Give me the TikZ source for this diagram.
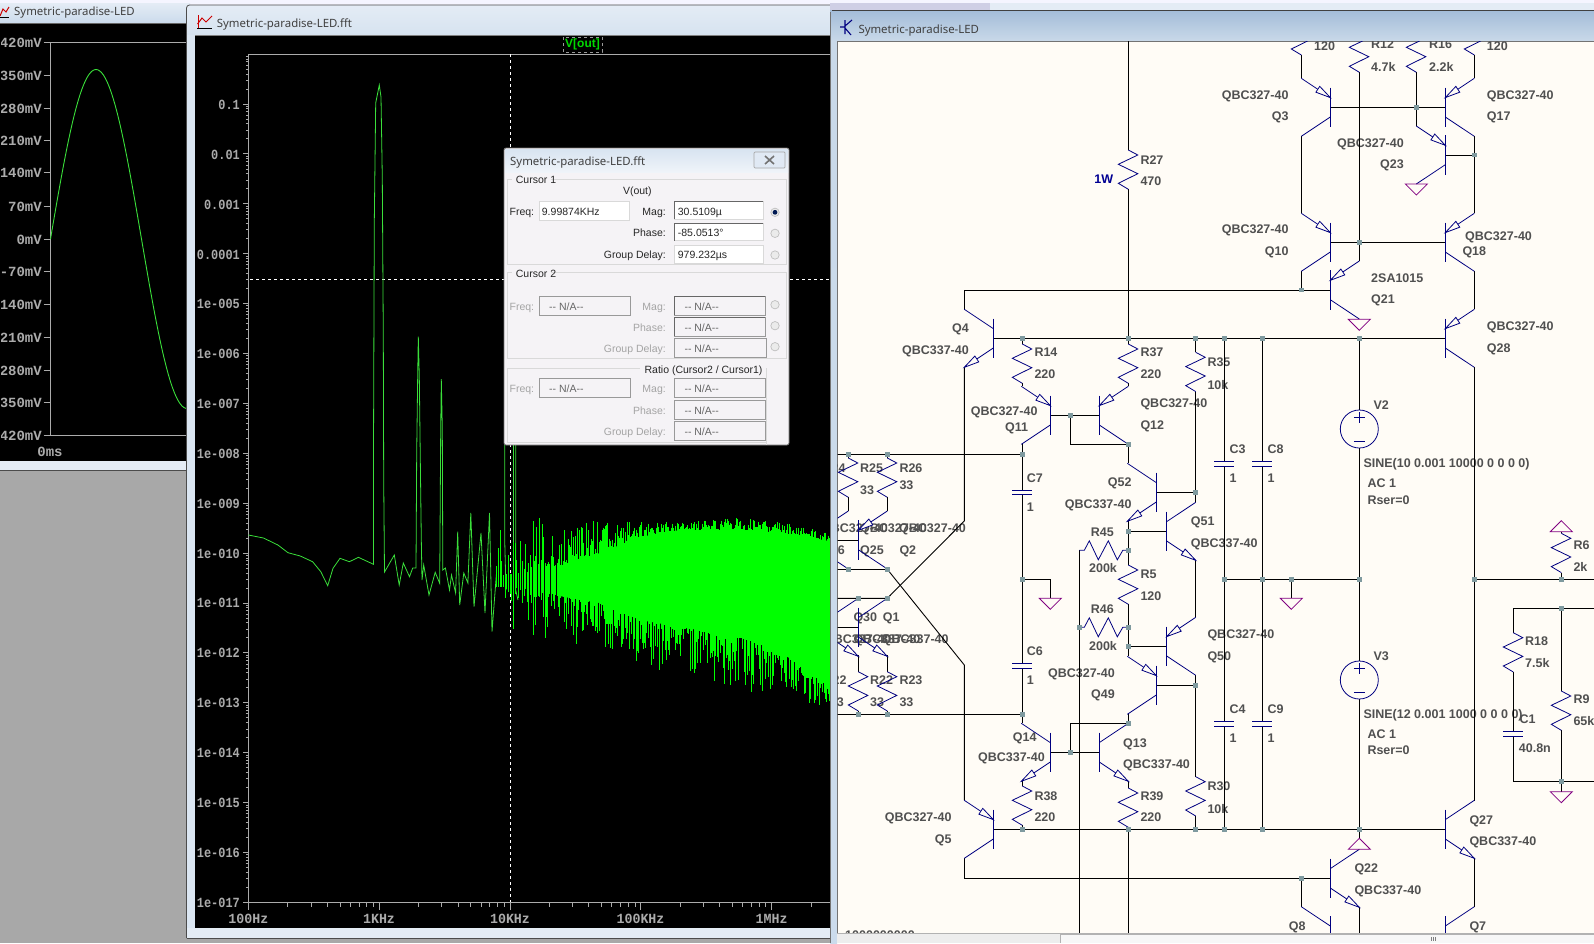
\documentclass[tikz,border=0pt]{standalone}
\usepackage{fontspec}
\setmainfont{Liberation Sans}
\newfontfamily\monof{Liberation Mono}
\newfontfamily\titlef{Noto Sans}
\definecolor{bgsch}{HTML}{FFFCF6}
\definecolor{symc}{HTML}{000080}
\definecolor{gndc}{HTML}{800080}
\definecolor{jnc}{HTML}{7F9A9F}
\definecolor{labc}{HTML}{505050}
\definecolor{axc}{HTML}{ABABAB}
\definecolor{grn}{HTML}{00FF00}
\definecolor{grt}{HTML}{3ADF3A}
\definecolor{tbA}{HTML}{E4ECF5}
\definecolor{tbB}{HTML}{CBDBEC}
\definecolor{tcA}{HTML}{A3BCD8}
\definecolor{tcB}{HTML}{C9D9E9}
\definecolor{dlg}{HTML}{F5F3F6}
\definecolor{dgr}{HTML}{A4A4A4}
\tikzset{
 wire/.style={draw=black,line width=0.9pt},
 sym/.style={draw=symc,line width=0.8pt,line join=miter},
 gndsym/.style={draw=gndc,line width=0.8pt},
 sl/.style={inner sep=0pt,text height=9pt,text depth=0pt,text=labc,font=\fontsize{12.5}{14}\selectfont\bfseries},
 ax/.style={inner sep=0pt,text height=10pt,text depth=0pt,text=axc,font=\fontsize{14}{16}\selectfont\monof\bfseries},
 dt/.style={inner sep=0pt,text height=9pt,text depth=0pt,text=black!85,font=\fontsize{10.5}{13}\selectfont},
 dg/.style={dt,text=dgr},
 ttl/.style={inner sep=0pt,anchor=west,text height=9pt,text depth=0pt,text=black!75,font=\fontsize{11.4}{13}\selectfont\titlef},
 fld/.style={fill=white,draw=black!15,line width=0.6pt},
 gfld/.style={fill=dlg,draw=black!40,line width=0.7pt},
 frm/.style={draw=white!85!black,line width=0.7pt},
}
\newcommand{\lL}[3]{\node[sl,anchor=west] at (#1,#2) {#3};}
\newcommand{\lR}[3]{\node[sl,anchor=east] at (#1,#2) {#3};}
\newcommand{\lC}[3]{\node[sl,anchor=center] at (#1,#2) {#3};}
\newcommand{\harrow}[4]{\filldraw[sym,fill=bgsch] ({#1},{#2})--({#1+15*(#3)-3.5*(#4)},{#2+15*(#4)+3.5*(#3)})--({#1+15*(#3)+3.5*(#4)},{#2+15*(#4)-3.5*(#3)})--cycle;}
\newcommand{\bjtbody}[3]{%
 \draw[sym] (#1,#2-19.6)--(#1,#2+19.6);
 \draw[sym] (#1,#2-9.7)--({#1+(#3)*29},#2-29);
 \draw[sym] (#1,#2+9.7)--({#1+(#3)*29},#2+29);}
\newcommand{\bjtp}[3]{\bjtbody{#1}{#2}{#3}\harrow{#1}{#2-9.7}{(#3)*0.833}{-0.555}}
\newcommand{\bjtn}[3]{\bjtbody{#1}{#2}{#3}\harrow{#1+(#3)*29}{#2+29}{-(#3)*0.833}{-0.555}}
\newcommand{\res}[2]{\draw[sym] (#1,#2)--(#1+9.5,#2+5)--(#1-10,#2+14.3)--(#1+9.5,#2+23.7)--(#1-10,#2+33.3)--(#1,#2+39.3);}
\newcommand{\hres}[2]{\draw[sym] (#1,#2)--(#1+5,#2)--(#1+10,#2-9.5)--(#1+19,#2+9.5)--(#1+29,#2-9.5)--(#1+38,#2+9.5)--(#1+43.5,#2)--(#1+49,#2);}
\newcommand{\capv}[2]{\draw[sym] (#1-10,#2)--(#1+10,#2) (#1-10,#2+4.6)--(#1+10,#2+4.6);}
\newcommand{\gnd}[2]{\draw[gndsym] (#1-11,#2)--(#1+11,#2)--(#1,#2+11)--cycle;}
\newcommand{\gndup}[2]{\draw[gndsym] (#1-11,#2)--(#1+11,#2)--(#1,#2-11)--cycle;}
\newcommand{\jn}[2]{\fill[jnc] (#1-2.4,#2-2.4) rectangle (#1+2.4,#2+2.4);}
\newcommand{\vsrc}[2]{\draw[sym] (#1,#2) circle (19);
 \draw[sym] (#1-5.5,#2-11.3)--(#1+5.5,#2-11.3) (#1,#2-16.8)--(#1,#2-5.8) (#1-5.5,#2+12.5)--(#1+5.5,#2+12.5);}
\newcommand{\sqx}[1]{\scalebox{0.85}[1]{#1}}
\newcommand{\radio}[2]{\draw[draw=black!25,fill=white!92!black,line width=0.7pt] (#1,#2) circle (4.2);}
\newcommand{\na}{{-}{-} N/A{-}{-}}
\begin{document}
\begin{tikzpicture}[x=1pt,y=-1pt]
\useasboundingbox (0,0) rectangle (1594,943);
% desktop
\fill[white!96!blue] (0,0) rectangle (1594,943);
\fill[black!34] (0,470) rectangle (1594,943);
% ===== window 1
\shade[top color=tbA,bottom color=tbB] (0,3) rectangle (190,23);
\fill[tbA] (0,460) rectangle (190,470);
\draw[black!70,line width=0.8pt] (0,470.5)--(190,470.5);
\fill[black] (0,23) rectangle (190,461);
\draw[black!60,line width=0.8pt] (0,23)--(190,23);
\draw[red!80!black,line width=1pt] (0,16)--(3,9)--(6,12)--(9,7);
\draw[black,line width=0.8pt] (0,17.5)--(9,17.5);
\node[ttl] at (14,11) {Symetric-paradise-LED};
\begin{scope}
\clip (1,23) rectangle (190,461);
\draw[axc,line width=0.7pt] (190,42.3)--(50.5,42.3)--(50.5,435)--(190,435);
\foreach \yy/\tx in {42.3/420mV,75/350mV,108/280mV,140/210mV,172.7/140mV,206/70mV,239/0mV,271/-70mV,304/-140mV,337.3/-210mV,370/-280mV,402.3/-350mV,435/-420mV}{
 \draw[axc,line width=0.7pt] (43.5,\yy)--(50.5,\yy);
 \node[ax,anchor=east] at (42,\yy) {\tx};
}
\node[ax,anchor=center] at (50,451) {0ms};
\draw[grt,line width=0.9pt] plot[domain=50.5:186,samples=70] ({\x},{239-169.5*sin((\x-50.5)/182*360)});
\end{scope}
% ===== window 2
\shade[top color=tbA,bottom color=tbB,rounded corners=3pt] (186.5,5) rectangle (990,60);
\draw[black!70,rounded corners=3pt,line width=0.8pt] (186.5,938)--(186.5,5)--(990,5)--(990,30);
\fill[tbB!70!white] (187,35) rectangle (195,938);
\fill[tbA] (187,928) rectangle (832,937.5);
\draw[black!70,line width=0.8pt] (186.5,938)--(832,938);
\fill[black] (195,35) rectangle (832,928);
\draw[black!50,line width=0.8pt] (195,35)--(832,35);
% icon
\draw[red!80!black,line width=1pt] (197.5,24)--(202,18)--(206,22)--(212,16);
\draw[red!80!black,line width=0.8pt] (198,15)--(198,28);
\draw[black,line width=0.8pt] (197,28.5)--(212,28.5);
\node[ttl] at (216.7,22.7) {Symetric-paradise-LED.fft};
% axes
\begin{scope}
\clip (195,35) rectangle (830,928);
\draw[axc,line width=0.7pt] (835,54.3)--(248.4,54.3)--(248.4,902.3)--(835,902.3);
\foreach \dv in {0,...,16}{
 \pgfmathsetmacro\ybase{902.3-49.9*\dv}
 \draw[axc,line width=0.7pt] (243,\ybase)--(248.4,\ybase);
 \foreach \kv in {2,...,9}{
  \pgfmathsetmacro\yk{\ybase-49.9*log10(\kv)}
  \draw[axc,line width=0.6pt] (245.8,\yk)--(248.4,\yk);
 }
}
\foreach \yy/\tx in {902.3/1e-017,852.4/1e-016,802.5/1e-015,752.6/1e-014,702.7/1e-013,652.8/1e-012,602.9/1e-011,553/1e-010,503.1/1e-009,453.2/1e-008,403.3/1e-007,353.4/1e-006,303.5/1e-005,254.5/0.0001,204.7/0.001,154.5/0.01,104.5/0.1}{
 \node[ax,anchor=east] at (240,\yy) {\sqx{\tx}};
}
\foreach \dv in {0,...,4}{
 \pgfmathsetmacro\xbase{248.4+130.8*\dv}
 \draw[axc,line width=0.7pt] (\xbase,902.3)--(\xbase,909.5);
 \foreach \kv in {2,...,9}{
  \pgfmathsetmacro\xk{\xbase+130.8*log10(\kv)}
  \draw[axc,line width=0.6pt] (\xk,902.3)--(\xk,906.5);
 }
}
\foreach \xx/\tx in {248.4/100Hz,379/1KHz,510/10KHz,640.5/100KHz,771.6/1MHz}{
 \node[ax,anchor=center] at (\xx,918.3) {\scalebox{0.95}[1]{\tx}};
}
% cursor lines
\draw[white,line width=0.8pt,dash pattern=on 3pt off 3pt] (510,54.3)--(510,902.3);
\draw[white,line width=0.8pt,dash pattern=on 3pt off 3pt] (250,279.3)--(830,279.3);
% low-frequency trace
\draw[grt,line width=0.8pt] (248.4,535)--(263.5,538)--(277.9,545)--(288,552.7)--(300.3,556)--(312.6,561.7)--(320.8,571.7)--(327.7,585.7)--(333,568.3)--(340,558.3)--(349.4,561.7)--(358.4,557.3)--(373.5,564.3)--(373.5,450)--(374.3,221.7)--(375.7,103)--(379.3,85)--(381,97)--(382.3,178)--(383.3,336.7)--(383.7,480)--(384.5,572)--(394.3,555)--(399.2,585)--(403.3,563)--(409.5,576.7)--(412.7,568)--(416,568)--(416.7,453)--(417.7,375)--(418.3,336.7)--(419.3,376.7)--(420.3,460)--(421.3,540)--(422,580)--(423.7,565)--(429,595)--(435.2,572.3)--(439.7,583.3)--(440.7,430)--(441.3,379)--(442.3,428)--(442.8,570)--(445.4,568)--(449.5,590)--(451.5,575)--(455.6,593)--(457.7,531.7)--(459.7,605)--(463.8,573)--(467.9,583)--(470.8,513)--(474,606.7)--(481,533)--(485,613)--(489.5,513)--(492,631.7)--(496.5,573);
\draw[grt,line width=0.8pt] (504.7,445)--(504.7,540)--(506,590) (513.5,445)--(513.5,590) (515.7,445)--(515.7,590)--(518,600);
% noise
\fill[grn] (560,566)--(570,562)--(600,553)--(640,537)--(680,530)--(742,530)--(782,533)--(835,542)--(835,690)--(782,653)--(742,637)--(680,627)--(640,620)--(600,603)--(570,598)--(560,596)--cycle;
\pgfmathsetseed{1234}
\foreach \xA/\tA/\sA/\bA/\mA/\xB/\tB/\sB/\bB/\mB/\stp in {
 496/576/586/520/625/530/572/590/515/635/0.05,
 530/572/590/515/635/570/562/598/520/650/0.03,
 570/562/598/520/650/600/553/603/520/645/0.02,
 600/553/603/520/645/640/537/620/522/665/0.012,
 640/537/620/522/665/680/530/627/522/675/0.012,
 680/530/627/522/675/742/530/637/518/690/0.008,
 742/530/637/518/690/782/533/653/522/705/0.012,
 782/533/653/522/705/832/542/690/532/712/0.01}{
 \pgfmathsetmacro\stq{\stp*2}
 \foreach \tv in {0,\stp,...,1}{
  \pgfmathsetmacro\xx{\xA+(\xB-\xA)*\tv+rnd*0.8}
  \pgfmathsetmacro\sv{\tA+(\tB-\tA)*\tv}
  \pgfmathsetmacro\ev{\sA+(\sB-\sA)*\tv}
  \pgfmathsetmacro\mtv{\bA+(\bB-\bA)*\tv}
  \pgfmathsetmacro\mbv{\mA+(\mB-\mA)*\tv}
  \pgfmathsetmacro\ya{\sv-(\sv-\mtv)*pow(rnd,2.5)}
  \pgfmathsetmacro\yb{\ev+(\mbv-\ev)*pow(rnd,3)}
  \draw[grn,line width=0.6pt] (\xx,\ya)--(\xx,\yb);
 }
}
\end{scope}
% trace name
\draw[black!40,dashed,line width=0.6pt,fill=black] (563,37) rectangle (602,52);
\node[inner sep=0pt,text=grn!85!black,font=\fontsize{12}{13}\selectfont\bfseries] at (582.5,44.5) {V[out]};
% ===== dialog
\fill[dlg,draw=black!55,line width=0.8pt,rounded corners=2pt] (504,148) rectangle (789,445);
\shade[top color=tbB!75!white,bottom color=tbA!60!white] (505,149) rectangle (788,172);
\draw[black!35,fill=tbB!60!white,rounded corners=1pt,line width=0.7pt] (754,152) rectangle (785,168);
\draw[black!55,line width=1.6pt] (765,156)--(774,164) (774,156)--(765,164);
\node[ttl] at (510,161) {Symetric-paradise-LED.fft};
\draw[frm] (507,179)--(512,179) (551,179)--(786,179)--(786,264.3)--(507,264.3)--(507,179);
\draw[frm] (507,272.7)--(512,272.7) (551,272.7)--(786,272.7)--(786,358.3)--(507,358.3)--(507,272.7);
\draw[frm] (507,368.3)--(640,368.3) (766,368.3)--(766,445) (507,368.3)--(507,442)--(766,442);
\node[dt,anchor=west] at (515.7,179) {Cursor 1};
\node[dt,anchor=west] at (515.7,273) {Cursor 2};
\node[dt,anchor=center] at (637.3,190) {V(out)};
\node[dt,anchor=east] at (762.7,369) {Ratio (Cursor2 / Cursor1)};
\draw[fld] (539,201.7) rectangle (629.3,220);
\foreach \ya/\yb in {201.7/219.3,223.3/240.7,245/263.3}{\draw[fld] (674,\ya) rectangle (763.5,\yb);}
\draw[black!60,line width=0.9pt] (763.3,201.7)--(674,201.7)--(674,219.3) (763.3,223.3)--(674,223.3)--(674,240.7);
\node[dt,anchor=east] at (534.3,211) {Freq:};
\node[dt,anchor=east] at (666,211) {Mag:};
\node[dt,anchor=east] at (666,231.7) {Phase:};
\node[dt,anchor=east] at (666,254) {Group Delay:};
\node[dt,anchor=west] at (541.7,211) {9.99874KHz};
\node[dt,anchor=west] at (677.7,211) {30.5109µ};
\node[dt,anchor=west] at (677.7,231.7) {-85.0513°};
\node[dt,anchor=west] at (677.7,254) {979.232µs};
\radio{775}{212.3}\radio{775}{233.3}\radio{775}{255}
\fill[symc!50!black!90!cyan] (775,212.3) circle (2.4);
\draw[gfld] (539.3,296.3) rectangle (630.7,315.7);
\draw[gfld] (674.3,296.7) rectangle (765,315);
\draw[gfld] (674.3,317.7) rectangle (765,336);
\draw[gfld] (674.3,338.3) rectangle (766,357.7);
\draw[black!60,line width=0.9pt] (765,296.7)--(674.3,296.7)--(674.3,315) (765,317.7)--(674.3,317.7)--(674.3,336);
\foreach \yy/\tx in {306/Mag:,326.7/Phase:,348/Group Delay:,388.3/Mag:,410/Phase:,431/Group Delay:}{\node[dg,anchor=east] at (666,\yy) {\tx};}
\node[dg,anchor=east] at (534.3,306) {Freq:};
\node[dg,anchor=east] at (534.3,388.3) {Freq:};
\foreach \yy in {306,326.7,348}{\node[dg,anchor=west,text=black!60] at (684.3,\yy) {\na};}
\node[dg,anchor=west,text=black!60] at (549,306) {\na};
\radio{775}{304.7}\radio{775}{325.7}\radio{775}{346.7}
\draw[gfld] (539.3,378.3) rectangle (630.7,397.7);
\draw[gfld] (674.3,378.3) rectangle (765.7,397.7);
\draw[gfld] (674.3,400) rectangle (765.7,419.3);
\draw[gfld] (674.3,421.7) rectangle (765.7,440.7);
\node[dg,anchor=west,text=black!60] at (549,388.3) {\na};
\foreach \yy in {388.3,410,431}{\node[dg,anchor=west,text=black!60] at (684.3,\yy) {\na};}
% ===== window 3
\fill[white!90!blue!90!black] (830,3) rectangle (1594,12);
\fill[tbA] (990,3) rectangle (1594,10);
\shade[top color=tcA,bottom color=tcB] (830,10) rectangle (1594,41);
\draw[black!75,line width=0.9pt] (832,10.3)--(1594,10.3);
\fill[bgsch] (837,41) rectangle (1594,943);
\shade[top color=tcB,bottom color=tbB] (830,41) rectangle (837,943);
\draw[black!55,line width=0.8pt] (830,12)--(830,943);
\draw[black!55,line width=0.8pt] (837,41)--(1594,41) (837,41)--(837,943);
\draw[symc,line width=1.1pt] (845,20)--(845,34) (845,26)--(852,20) (845,28)--(851,35) (840,27)--(845,27);
\node[ttl] at (858.3,28.7) {Symetric-paradise-LED};
\begin{scope}
\clip (837.6,41.6) rectangle (1594,933);
% labels
\lL{1140.3}{160}{R27}\lL{1140.3}{181}{470}
\node[sl,anchor=east,text=symc!85!blue] at (1113.3,179) {1W};
\lL{1314}{46}{120}\lL{1486.7}{46}{120}
\lL{1371}{44}{R12}\lL{1371}{66.7}{4.7k}\lL{1429}{44}{R16}\lL{1429}{66.7}{2.2k}
\lR{1288.7}{95}{QBC327-40}\lR{1288.7}{116}{Q3}
\lL{1486.7}{95}{QBC327-40}\lL{1486.7}{116}{Q17}
\lR{1404}{143.3}{QBC327-40}\lR{1404}{164.3}{Q23}
\lR{1288.7}{229}{QBC327-40}\lR{1288.7}{251}{Q10}
\lL{1465}{236}{QBC327-40}\lL{1462.3}{251}{Q18}
\lL{1371}{278}{2SA1015}\lL{1371}{299}{Q21}
\lL{1486.7}{326}{QBC327-40}\lL{1486.7}{348}{Q28}
\lR{969}{328.3}{Q4}\lR{969}{350}{QBC337-40}
\lL{1034.3}{352}{R14}\lL{1034.3}{374.3}{220}
\lL{1140.3}{352}{R37}\lL{1140.3}{374.3}{220}
\lL{1207.3}{362.3}{R35}\lL{1207.3}{384.7}{10k}
\lR{1037.7}{411}{QBC327-40}\lR{1028.3}{427.3}{Q11}
\lL{1140.3}{403.3}{QBC327-40}\lL{1140.3}{425.3}{Q12}
\lL{1026.7}{478}{C7}\lL{1026.7}{507}{1}
\lR{1131.7}{482.3}{Q52}\lR{1131.7}{504.3}{QBC337-40}
\lL{1190.7}{521}{Q51}\lL{1190.7}{543}{QBC337-40}
\lC{1102.3}{532.3}{R45}\lC{1103}{568.3}{200k}
\lL{1140.3}{574.3}{R5}\lL{1140.3}{596}{120}
\lC{1102.3}{609.3}{R46}\lC{1103}{646.3}{200k}
\lL{1229.3}{449.3}{C3}\lL{1229.3}{478}{1}\lL{1267.3}{449.3}{C8}\lL{1267.3}{478}{1}
\lL{1229.3}{709.3}{C4}\lL{1229.3}{738.3}{1}\lL{1267.3}{709.3}{C9}\lL{1267.3}{738.3}{1}
\lL{1373.3}{405.3}{V2}\lL{1363.3}{463.3}{SINE(10 0.001 10000 0 0 0 0)}\lL{1367.3}{483.3}{AC 1}\lL{1367.3}{500.3}{Rser=0}
\lL{1373.3}{656}{V3}\lL{1363.3}{714.3}{SINE(12 0.001 1000 0 0 0 0)}\lL{1367.3}{734.3}{AC 1}\lL{1367.3}{750.3}{Rser=0}
\lL{1207.3}{634}{QBC327-40}\lL{1207.3}{656}{Q50}
\lR{1115}{673.3}{QBC327-40}\lR{1115}{694.3}{Q49}
\lL{1026.7}{651}{C6}\lL{1026.7}{680}{1}
\lR{1036.7}{737.3}{Q14}\lR{1045}{757.3}{QBC337-40}
\lL{1123}{743}{Q13}\lL{1123}{764}{QBC337-40}
\lL{1034.3}{796}{R38}\lL{1034.3}{817.3}{220}
\lL{1140.3}{796}{R39}\lL{1140.3}{817.3}{220}
\lL{1207.3}{786}{R30}\lL{1207.3}{808.7}{10k}
\lR{951.7}{817}{QBC327-40}\lR{951.7}{839}{Q5}
\lL{1469.3}{820}{Q27}\lL{1469.3}{841}{QBC337-40}
\lL{1354.3}{868.3}{Q22}\lL{1354.3}{890}{QBC337-40}
\lR{1305.7}{926}{Q8}\lL{1469.3}{926}{Q7}
\lL{1573.3}{545}{R6}\lL{1573.3}{567.3}{2k}
\lL{1525}{641}{R18}\lL{1525}{663.3}{7.5k}
\lL{1573.3}{699}{R9}\lL{1573.3}{721}{65k}
\lL{1519.3}{719.3}{C1}\lL{1518.7}{747.7}{40.8n}
% left cluster labels
\lR{845.7}{468.3}{R24}\lL{860}{468.3}{R25}\lL{860}{490}{33}\lL{899.3}{468.3}{R26}\lL{899.3}{485}{33}
\lL{899}{528.3}{QBC327-40}\lL{860}{528.3}{QBC327-40}\lL{821}{528.3}{QBC327-40}
\lR{845}{550}{Q26}\lL{860}{550}{Q25}\lL{899.3}{550}{Q2}
\lL{853.3}{617}{Q30}\lL{882.7}{617}{Q1}
\lL{881.7}{639}{QBC337-40}\lL{853.3}{639}{QBC337-40}\lL{824}{639}{QBC337-40}
\lL{870}{680}{R22}\lL{870}{702.3}{33}\lL{899.3}{680}{R23}\lL{899.3}{702.3}{33}
\lR{846.7}{680}{R22}\lR{844}{702.3}{33}
\lL{845}{934.5}{1000000000}
% main wires
\draw[wire] (1128.3,41)--(1128.3,150) (1128.3,189.3)--(1128.3,344);
\draw[wire] (964.3,310)--(964.3,290)--(1330.3,290);
\draw[wire] (993.3,338.3)--(1445.3,338.3);
\draw[wire] (993.3,829.3)--(1445.3,829.3);
% top pairs
\draw[wire] (1301.3,55)--(1301.3,78.3) (1301.3,136)--(1301.3,213.3) (1301.3,271.3)--(1301.3,290);
\draw[wire] (1474.3,55)--(1474.3,78.3) (1474.3,136)--(1474.3,213.3) (1474.3,271.3)--(1474.3,309.3);
\draw[wire] (1359.3,72.3)--(1359.3,261.3);
\draw[wire] (1416.3,72.3)--(1416.3,126);
\draw[wire] (1330.3,107.3)--(1445.3,107.3);
\draw[wire] (1445.3,155)--(1474.3,155);
\draw[wire] (1330.3,242.3)--(1445.3,242.3);
% Q4 Q5 outer
\draw[wire] (964.3,367)--(964.3,521)--(887.3,598.3)--(837,598.3);
\draw[wire] (887.3,569.3)--(964.3,665)--(964.3,800.3);
\draw[wire] (837,569.3)--(887.3,569.3);
\draw[wire] (964.3,858.3)--(964.3,878.3)--(1330.3,878.3);
\draw[wire] (837,454.3)--(1022.3,454.3);
\draw[wire] (837,714.3)--(1022.3,714.3);
\draw[wire] (837,540)--(858.3,540) (837,627.3)--(858.3,627.3);
\draw[wire] (848.3,454.3)--(848.3,458) (887.3,454.3)--(887.3,458);
\draw[wire] (848.3,497.3)--(848.3,511) (887.3,497.3)--(887.3,511);
\draw[wire] (858.3,655)--(858.3,671.7) (887.3,655)--(887.3,671.7);
\draw[wire] (858.3,711)--(858.3,714.3) (887.3,711)--(887.3,714.3);
% input pair
\draw[wire] (1022.3,338.3)--(1022.3,344) (1022.3,383.3)--(1022.3,386.3);
\draw[wire] (1128.3,383.3)--(1128.3,386.3);
\draw[wire] (1022.3,444.3)--(1022.3,490) (1022.3,494.6)--(1022.3,663.3) (1022.3,668)--(1022.3,723.3);
\draw[wire] (1022.3,579.3)--(1050.3,579.3)--(1050.3,598.3);
\draw[wire] (1050.3,415.3)--(1099.3,415.3);
\draw[wire] (1070.3,415.3)--(1070.3,444.3)--(1128.3,444.3)--(1128.3,463.3);
\draw[wire] (1156.3,492.3)--(1195.7,492.3);
\draw[wire] (1195.7,338.3)--(1195.7,352.3) (1195.7,391.6)--(1195.7,502.3);
\draw[wire] (1128.3,521.3)--(1128.3,565) (1128.3,604.3)--(1128.3,656);
\draw[wire] (1128.3,531.3)--(1166.7,531.3) (1128.3,646.3)--(1166.7,646.3);
\draw[wire] (1079.3,550.3)--(1079.3,933);
\draw[wire] (1195.7,560.3)--(1195.7,617.3) (1195.7,675.3)--(1195.7,776.7) (1195.7,816)--(1195.7,829.3);
\draw[wire] (1156.3,685.3)--(1195.7,685.3);
\draw[wire] (1128.3,714.3)--(1128.3,723.3)--(1070.3,723.3)--(1070.3,752.3);
\draw[wire] (1050.3,752.3)--(1099.3,752.3);
\draw[wire] (1022.3,781.3)--(1022.3,786) (1022.3,825.3)--(1022.3,829.3);
\draw[wire] (1128.3,781.3)--(1128.3,788) (1128.3,827.3)--(1128.3,933);
% caps and sources
\draw[wire] (1224.3,338.3)--(1224.3,461.3) (1224.3,466)--(1224.3,721.6) (1224.3,726.2)--(1224.3,829.3);
\draw[wire] (1262.3,338.3)--(1262.3,461.3) (1262.3,466)--(1262.3,721.6) (1262.3,726.2)--(1262.3,829.3);
\draw[wire] (1359.3,338.3)--(1359.3,410) (1359.3,448)--(1359.3,661) (1359.3,699)--(1359.3,838);
\draw[wire] (1224.3,579.3)--(1359.3,579.3);
\draw[wire] (1291.3,579.3)--(1291.3,598.3);
% output side
\draw[wire] (1474.3,367)--(1474.3,801);
\draw[wire] (1474.3,579.3)--(1594,579.3);
\draw[wire] (1474.3,858.3)--(1474.3,906.7);
\draw[wire] (1301.7,878.3)--(1301.7,906.7);
\draw[wire] (1359.3,907.3)--(1359.3,933);
\draw[wire] (1561.3,531.7)--(1561.3,533.3) (1561.3,572.6)--(1561.3,579.3);
\draw[wire] (1594,608.3)--(1513.3,608.3)--(1513.3,632.7) (1513.3,672)--(1513.3,731.7) (1513.3,736.3)--(1513.3,781.3)--(1594,781.3);
\draw[wire] (1561.3,608.3)--(1561.3,691) (1561.3,730.3)--(1561.3,791.7);
% transistors
\bjtp{1330.3}{107.3}{-1}\bjtp{1445.3}{107.3}{1}\bjtp{1445.3}{155}{-1}
\bjtp{1330.3}{242.3}{-1}\bjtp{1445.3}{242.3}{1}\bjtp{1330.3}{290}{1}
\bjtp{1445.3}{338.3}{1}
\bjtn{993.3}{338.3}{-1}
\bjtp{1050.3}{415.3}{-1}\bjtp{1099.3}{415.3}{1}
\bjtn{1156.3}{492.3}{-1}\bjtn{1166.7}{531.3}{1}
\bjtp{1166.7}{646.3}{1}\bjtp{1156.3}{685.3}{-1}
\bjtn{1050.3}{752.3}{-1}\bjtn{1099.3}{752.3}{1}
\bjtp{993.3}{829.3}{-1}\bjtn{1445.3}{829.3}{1}
\bjtn{1330.3}{878.3}{1}
\bjtbody{1330.3}{935.7}{-1}\bjtbody{1445.3}{935.7}{1}
\bjtp{858.3}{540}{1}\bjtp{819.3}{540}{1}
\bjtn{858.3}{627.3}{1}\bjtn{829.3}{627.3}{1}
% resistors
\res{1128.3}{150}
\res{1301.3}{15.7}\res{1359.3}{33}\res{1416.3}{33}\res{1474.3}{15.7}
\res{1022.3}{344}\res{1128.3}{344}\res{1195.7}{352.3}
\res{848.3}{458}\res{887.3}{458}
\res{858.3}{671.7}\res{887.3}{671.7}
\res{1128.3}{565}\res{1022.3}{786}\res{1128.3}{788}\res{1195.7}{776.7}
\res{1561.3}{533.3}\res{1513.3}{632.7}\res{1561.3}{691}
\hres{1079.3}{550.3}\hres{1079.3}{627.3}
% caps
\capv{1022.3}{490}\capv{1022.3}{663.3}
\capv{1224.3}{461.3}\capv{1262.3}{461.3}\capv{1224.3}{721.6}\capv{1262.3}{721.6}
\capv{1513.3}{731.7}
% sources
\vsrc{1359.3}{429}\vsrc{1359.3}{680}
% grounds
\gnd{1416.3}{184}\gnd{1359.3}{319.3}\gnd{1050.3}{598.3}\gnd{1291.3}{598.3}\gnd{1561.3}{791.7}
\gndup{1359.3}{849.3}\gndup{1561.3}{531.7}
% junctions
\foreach \a/\b in {1416.3/107.3,1474.3/155,1359.3/242.3,1301.7/290,1022.3/338.3,1128.3/338.3,1195.7/338.3,1224.3/338.3,1262.3/338.3,1359.3/338.3,
 1070.3/415.3,1128.3/444.3,1022.3/454.3,848.3/454.3,887.3/454.3,1195.7/492.3,1128.3/531.3,1128.3/550.3,848.3/569.3,887.3/569.3,1022.3/579.3,1224.3/579.3,1262.3/579.3,1291.3/579.3,1359.3/579.3,1474.3/579.3,1561.3/579.3,858.3/598.3,887.3/598.3,1561.3/608.3,1079.3/627.3,1128.3/627.3,1128.3/646.3,1195.7/685.3,858.3/714.3,887.3/714.3,1022.3/714.3,1128.3/723.3,1070.3/752.3,1561.3/781.3,1022.3/829.3,1128.3/829.3,1195.7/829.3,1224.3/829.3,1262.3/829.3,1359.3/829.3,1301.7/878.3}{\jn{\a}{\b}}
\end{scope}
% scroll bar
\fill[black!7] (837,933) rectangle (1594,943);
\draw[black!30,line width=0.6pt] (837,933)--(1594,933);
\fill[black!3] (1060,934) rectangle (1594,943);
\draw[black!30,line width=0.6pt] (1060,943)--(1060,934)--(1594,934);
\draw[black!50,line width=0.7pt] (1431,937)--(1431,941) (1433,937)--(1433,941) (1435,937)--(1435,941);
\end{tikzpicture}
\end{document}
